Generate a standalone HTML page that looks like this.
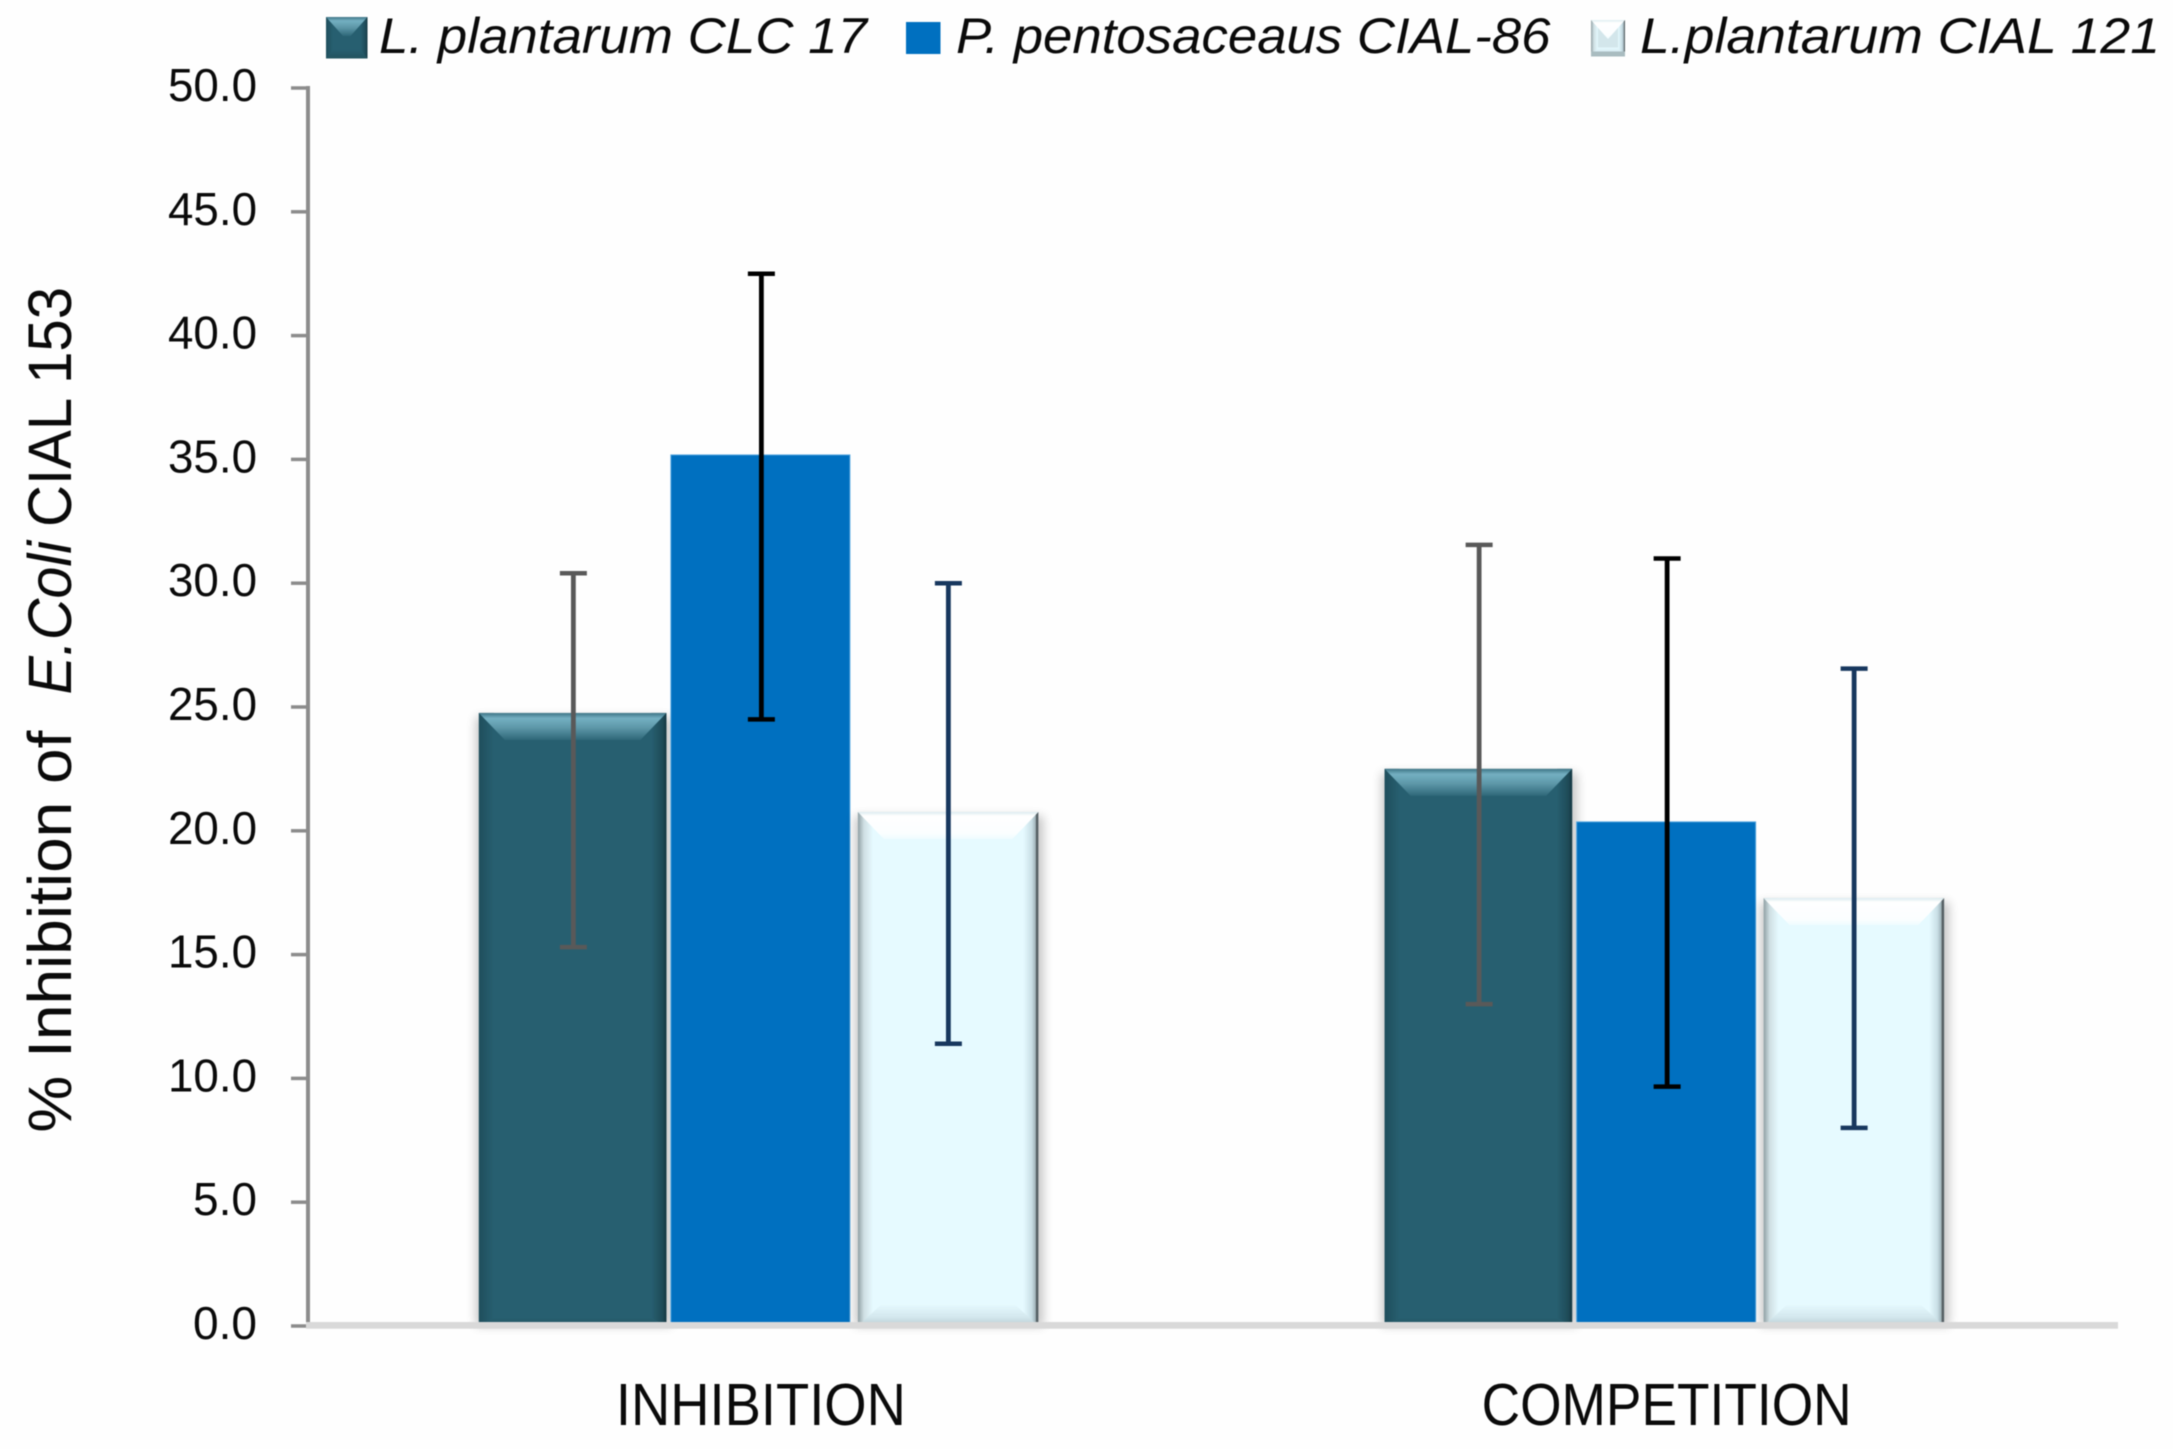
<!DOCTYPE html>
<html lang="en">
<head>
<meta charset="utf-8">
<title>% Inhibition of E.Coli CIAL 153</title>
<style>
  html, body { margin: 0; padding: 0; background: #fefefe; }
  body { width: 2173px; height: 1449px; overflow: hidden; }
  svg { display: block; font-family: "Liberation Sans", sans-serif; filter: blur(0.6px); }
  text { fill: #0a0a0a; }
</style>
</head>
<body>
<svg id="chart" xmlns="http://www.w3.org/2000/svg" width="2173" height="1449" viewBox="0 0 2173 1449">
  <defs>
    <filter id="soft" x="-20%" y="-20%" width="140%" height="140%"><feGaussianBlur stdDeviation="5"/></filter>
    <linearGradient id="tealTop" x1="0" y1="0" x2="0" y2="1">
      <stop offset="0" stop-color="#3f7586"/><stop offset="0.2" stop-color="#74b0c2"/><stop offset="0.55" stop-color="#5d97a8"/><stop offset="1" stop-color="#2f6879"/>
    </linearGradient>
    <linearGradient id="tealLeft" x1="0" y1="0" x2="1" y2="0">
      <stop offset="0" stop-color="#1f4e5c"/><stop offset="1" stop-color="#275f70"/>
    </linearGradient>
    <linearGradient id="tealRight" x1="0" y1="0" x2="1" y2="0">
      <stop offset="0" stop-color="#275f70"/><stop offset="0.75" stop-color="#1e4a57"/><stop offset="1" stop-color="#143640"/>
    </linearGradient>
    <linearGradient id="tealBottom" x1="0" y1="0" x2="0" y2="1">
      <stop offset="0" stop-color="#275f70"/><stop offset="1" stop-color="#23535f"/>
    </linearGradient>
    <linearGradient id="iceTop" x1="0" y1="0" x2="0" y2="1">
      <stop offset="0" stop-color="#dcecf0"/><stop offset="0.15" stop-color="#ffffff"/><stop offset="0.8" stop-color="#fbfeff"/><stop offset="1" stop-color="#eefcff"/>
    </linearGradient>
    <linearGradient id="iceLeft" x1="0" y1="0" x2="1" y2="0">
      <stop offset="0" stop-color="#8f9fa3"/><stop offset="0.4" stop-color="#cfdfe3"/><stop offset="1" stop-color="#e6faff"/>
    </linearGradient>
    <linearGradient id="iceRight" x1="0" y1="0" x2="1" y2="0">
      <stop offset="0" stop-color="#e6faff"/><stop offset="0.55" stop-color="#c9dfe6"/><stop offset="0.82" stop-color="#9fb2b8"/><stop offset="0.85" stop-color="#555f63"/><stop offset="1" stop-color="#555f63"/>
    </linearGradient>
    <linearGradient id="iceBottom" x1="0" y1="0" x2="0" y2="1">
      <stop offset="0" stop-color="#e6faff"/><stop offset="0.6" stop-color="#d3e7ed"/><stop offset="1" stop-color="#b9cdd3"/>
    </linearGradient>
  </defs>

  <g id="legend"></g>
  <text x="379" y="53" font-size="50" font-style="italic" textLength="488" lengthAdjust="spacingAndGlyphs">L. plantarum CLC 17</text>
  <text x="956" y="53" font-size="50" font-style="italic" textLength="594.5" lengthAdjust="spacingAndGlyphs">P. pentosaceaus CIAL-86</text>
  <text x="1640" y="53" font-size="50" font-style="italic" textLength="520" lengthAdjust="spacingAndGlyphs">L.plantarum CIAL 121</text>

  <g transform="translate(71,0) rotate(-90)">
    <text x="-1132.6" y="0" font-size="61" textLength="402" lengthAdjust="spacingAndGlyphs">% Inhibition of</text>
    <text x="-694.5" y="0" font-size="61" font-style="italic" textLength="153.5" lengthAdjust="spacingAndGlyphs">E.Coli</text>
    <text x="-527" y="0" font-size="61" textLength="240" lengthAdjust="spacingAndGlyphs">CIAL 153</text>
  </g>

  <g id="bars"></g>
  <g id="axes"></g>
  <g id="errors"></g>
  <g id="labels"></g>
</svg>

<script>
const categories = ['INHIBITION', 'COMPETITION'];
const seriesNames = ['clc17', 'cial86', 'cial121'];
const clc17Values = [24.76, 22.5];
const cial86Values = [35.18, 20.36];
const cial121Values = [20.76, 17.28];
const clc17High = [30.4, 31.55];
const clc17Low = [15.3, 13.0];
const cial86High = [42.5, 31.0];
const cial86Low = [24.5, 9.67];
const cial121High = [30.0, 26.55];
const cial121Low = [11.4, 8.0];
const yTickValues = [0, 5, 10, 15, 20, 25, 30, 35, 40, 45, 50];
const yTickLabels = ['0.0', '5.0', '10.0', '15.0', '20.0', '25.0', '30.0', '35.0', '40.0', '45.0', '50.0'];

const allValues = [clc17Values, cial86Values, cial121Values];
const allHigh = [clc17High, cial86High, cial121High];
const allLow = [clc17Low, cial86Low, cial121Low];

const NS = 'http://www.w3.org/2000/svg';
const plot = { left: 308, right: 2119.5, axisRight: 2118, top: 88, bottom: 1326, yMax: 50 };
const barsLayer = document.getElementById('bars');
const axesLayer = document.getElementById('axes');
const errorsLayer = document.getElementById('errors');
const labelsLayer = document.getElementById('labels');
const legendLayer = document.getElementById('legend');

function yScale(v) {
  return plot.bottom - (v / plot.yMax) * (plot.bottom - plot.top);
}
function groupCenter(i) {
  return plot.left + (plot.right - plot.left) * (i + 0.5) / categories.length;
}
function barLeft(s, i) {
  return groupCenter(i) + [-282, -90, 97][s];
}
function barWidth(s) {
  return [187.5, 179, 180.5][s];
}
function errorX(s, i) {
  return groupCenter(i) + [-187.5, 0.5, 187.5][s];
}
function make(tag, attrs, parent) {
  const el = document.createElementNS(NS, tag);
  for (const k in attrs) el.setAttribute(k, attrs[k]);
  parent.appendChild(el);
  return el;
}
function poly(pts, fill, parent, partName) {
  const el = make('polygon', { points: pts.map(p => p.join(',')).join(' '), fill: fill }, parent);
  
  
  return el;
}

function drawShape(parent, s, x, y, w, h, name, o) {
  const g = make('g', {}, parent);
  
  
  if (s === 1) {
    const r = make('rect', { x: x, y: y, width: w, height: h, fill: '#0070c0', stroke: '#4fa3de', 'stroke-width': o.stroke }, g);
    
    
    return;
  }
  const key = s === 0 ? 'teal' : 'ice';
  const fill = o.fill || (s === 0 ? '#275f70' : '#e6faff');
  if (o.shadow) {
    const sh = make('rect', { x: x - 3, y: y + 4, width: w + 8, height: h - 4, fill: '#000', opacity: 0.22, filter: 'url(#soft)' }, g);
    
    
  }
  const base = make('rect', { x: x, y: y, width: w, height: h, fill: fill }, g);
  
  
  const b = o.side;
  const l = make('rect', { x: x, y: y, width: b, height: h, fill: 'url(#' + key + 'Left)' }, g);
  
  
  const r = make('rect', { x: x + w - b, y: y, width: b, height: h, fill: 'url(#' + key + 'Right)' }, g);
  
  
  poly([[x + o.corner, y + h - o.bottom], [x + w - o.corner, y + h - o.bottom], [x + w, y + h], [x, y + h]], 'url(#' + key + 'Bottom)', g, name + '-bevel-bottom');
  poly([[x, y], [x + w, y], [x + w - o.slant, y + o.top], [x + o.slant, y + o.top]], 'url(#' + key + 'Top)', g, name + '-bevel-top');
  if (o.strip) {
    const st = make('rect', { x: x, y: y + h - o.strip, width: w, height: o.strip, fill: o.stripFill }, g);
    
    
  }
}

/* Legend swatches */
const swatches = [
  { s: 0, x: 326, y: 17, w: 41.5, h: 41.5 },
  { s: 1, x: 906, y: 22, w: 34.5, h: 32 },
  { s: 2, x: 1591, y: 20, w: 34, h: 36.5 }
];
swatches.forEach(function (sw) {
  const opts = { side: 7, top: 19, slant: 17, bottom: 9, corner: 7, stroke: 0, shadow: false };
  if (sw.s === 2) {
    opts.fill = '#d3e6eb';
    opts.strip = 5;
    opts.stripFill = '#a9bcc0';
  }
  drawShape(legendLayer, sw.s, sw.x, sw.y, sw.w, sw.h, 'legend-swatch-' + seriesNames[sw.s], opts);
});

/* Bars */
categories.forEach(function (cat, i) {
  allValues.forEach(function (vals, s) {
    const top = yScale(vals[i]);
    const opts = s === 0
      ? { side: 15, top: 27, slant: 26, bottom: 8, corner: 15, stroke: 1, shadow: true }
      : { side: 15, top: 27, slant: 26, bottom: 22, corner: 24, stroke: 1, shadow: true };
    drawShape(barsLayer, s, barLeft(s, i), top, barWidth(s), plot.bottom - top,
      'bar-' + cat.toLowerCase() + '-' + seriesNames[s], opts);
  });
});

/* Axes */
const yAxis = make('rect', { x: 306, y: plot.top - 2, width: 4, height: plot.bottom - plot.top + 2, fill: '#8c8c8c' }, axesLayer);



yTickValues.forEach(function (v, k) {
  const y = yScale(v);
  const t = make('rect', { x: 291, y: y - 1.75, width: 16, height: 3.5, fill: '#8c8c8c' }, axesLayer);
  
  
  const lab = make('text', { x: 257, y: y + 13, 'font-size': 46, 'text-anchor': 'end', textLength: yTickLabels[k].length === 3 ? 64 : 89, lengthAdjust: 'spacingAndGlyphs' }, labelsLayer);
  
  
  lab.textContent = yTickLabels[k];
});

const xAxis = make('rect', { x: 306, y: 1322, width: plot.axisRight - 306, height: 6.7, fill: '#d9d9d9' }, axesLayer);



/* Category labels */
const catWidths = [290, 370];
categories.forEach(function (cat, i) {
  const lab = make('text', { x: groupCenter(i), y: 1425, 'font-size': 59, 'text-anchor': 'middle', textLength: catWidths[i], lengthAdjust: 'spacingAndGlyphs' }, labelsLayer);
  
  
  lab.textContent = cat;
});

/* Error bars */
const errColors = ['#595959', '#000000', '#17375e'];
categories.forEach(function (cat, i) {
  allHigh.forEach(function (highs, s) {
    const cx = errorX(s, i);
    const yH = yScale(highs[i]);
    const yL = yScale(allLow[s][i]);
    const g = make('g', { stroke: errColors[s] }, errorsLayer);
    
    
    const stem = make('line', { x1: cx, x2: cx, y1: yH, y2: yL, 'stroke-width': 4.8 }, g);
    
    
    const capH = make('line', { x1: cx - 13.5, x2: cx + 13.5, y1: yH, y2: yH, 'stroke-width': 4.5 }, g);
    
    
    const capL = make('line', { x1: cx - 13.5, x2: cx + 13.5, y1: yL, y2: yL, 'stroke-width': 4.5 }, g);
    
    
  });
});
</script>
</body>
</html>
